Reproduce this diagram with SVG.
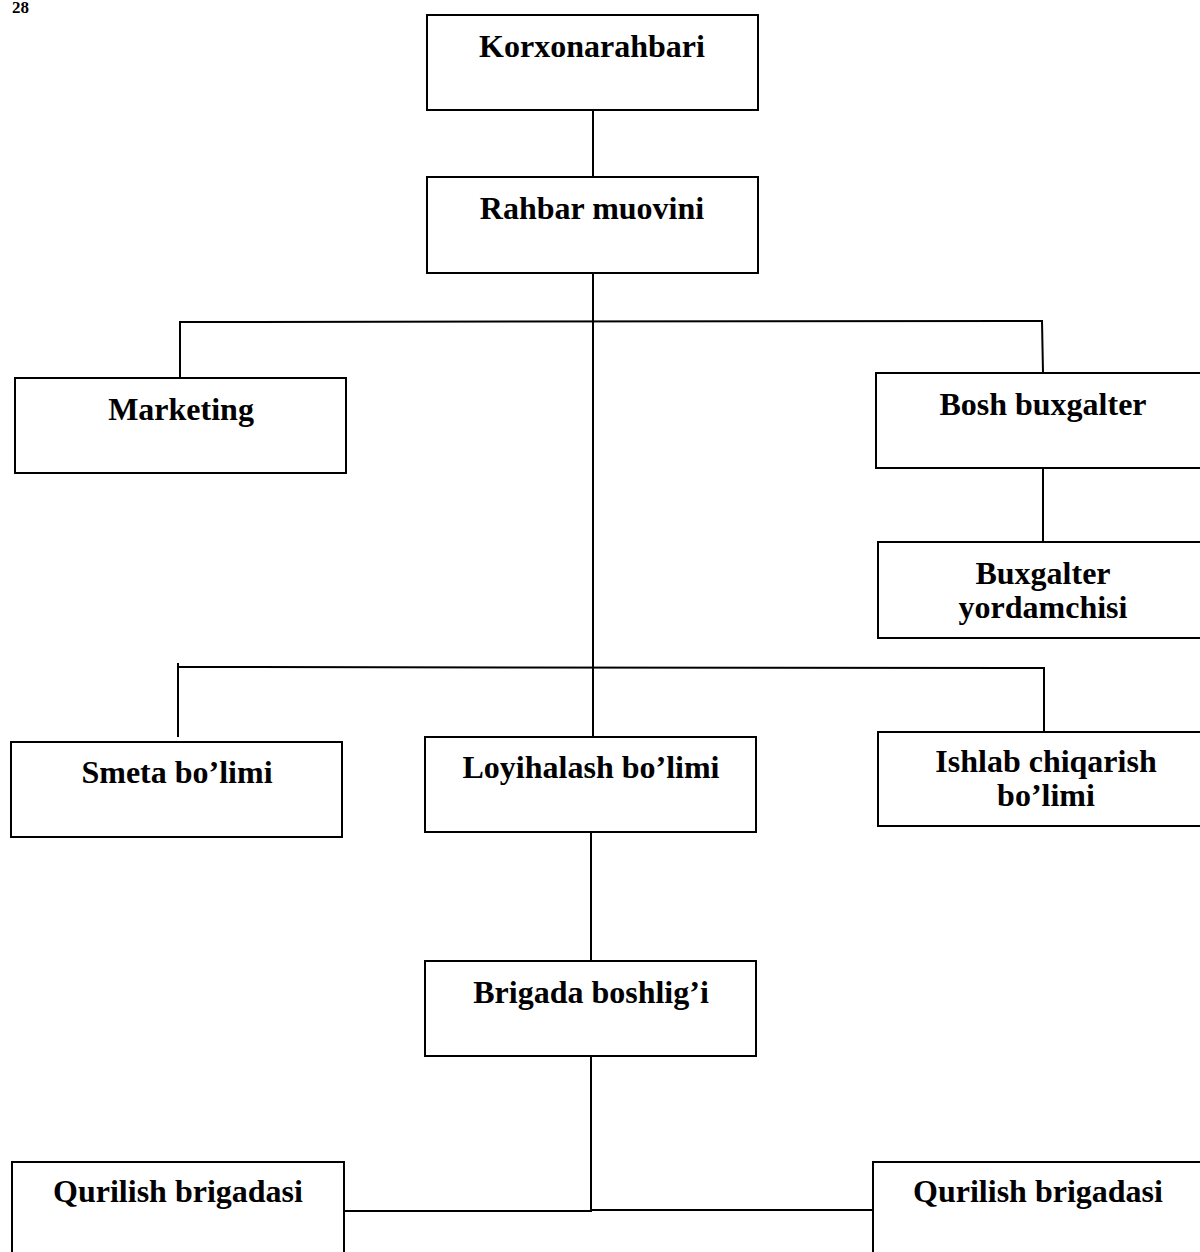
<svg xmlns="http://www.w3.org/2000/svg" width="1200" height="1252" viewBox="0 0 1200 1252">
<style>
.box{fill:#fff;stroke:#000;stroke-width:2}
.t{font-family:"Liberation Serif","Times New Roman",serif;font-weight:bold;font-size:32px;fill:#000;text-anchor:middle}
.c{fill:none;stroke:#000;stroke-width:2}
</style>
<rect width="1200" height="1252" fill="#fff"/>
<text x="12" y="13" style="font-family:'Liberation Serif',serif;font-weight:bold;font-size:17px">28</text>
<g id="connectors">
<line class="c" x1="593" y1="110" x2="593" y2="177"/>
<line class="c" x1="593" y1="273" x2="593" y2="737"/>
<polyline class="c" points="180,378 180,322 1042,321 1043,373"/>
<line class="c" x1="1043" y1="468" x2="1043" y2="542"/>
<polyline class="c" points="178,663 178,737"/>
<polyline class="c" points="178,667 1044,668 1044,732"/>
<line class="c" x1="591" y1="832" x2="591" y2="961"/>
<line class="c" x1="591" y1="1056" x2="591" y2="1212"/>
<line class="c" x1="344" y1="1211" x2="591" y2="1211"/>
<line class="c" x1="591" y1="1210" x2="873" y2="1210"/>
</g>
<g id="n1"><rect class="box" x="427" y="15" width="331" height="95"/><text class="t" x="592" y="57">Korxonarahbari</text></g>
<g id="n2"><rect class="box" x="427" y="177" width="331" height="96"/><text class="t" x="592" y="219">Rahbar muovini</text></g>
<g id="n3"><rect class="box" x="15" y="378" width="331" height="95"/><text class="t" x="181" y="420">Marketing</text></g>
<g id="n4"><rect class="box" x="876" y="373" width="340" height="95"/><text class="t" x="1043" y="415">Bosh buxgalter</text></g>
<g id="n5"><rect class="box" x="878" y="542" width="340" height="96"/><text class="t" x="1043" y="584">Buxgalter</text><text class="t" x="1043" y="618">yordamchisi</text></g>
<g id="n6"><rect class="box" x="11" y="742" width="331" height="95"/><text class="t" x="177" y="783">Smeta bo’limi</text></g>
<g id="n7"><rect class="box" x="425" y="737" width="331" height="95"/><text class="t" x="591" y="778">Loyihalash bo’limi</text></g>
<g id="n8"><rect class="box" x="878" y="732" width="340" height="94"/><text class="t" x="1046" y="772">Ishlab chiqarish</text><text class="t" x="1046" y="806">bo’limi</text></g>
<g id="n9"><rect class="box" x="425" y="961" width="331" height="95"/><text class="t" x="591" y="1003">Brigada boshlig’i</text></g>
<g id="n10"><rect class="box" x="12" y="1162" width="332" height="120"/><text class="t" x="178" y="1202">Qurilish brigadasi</text></g>
<g id="n11"><rect class="box" x="873" y="1162" width="340" height="120"/><text class="t" x="1038" y="1202">Qurilish brigadasi</text></g>
</svg>
